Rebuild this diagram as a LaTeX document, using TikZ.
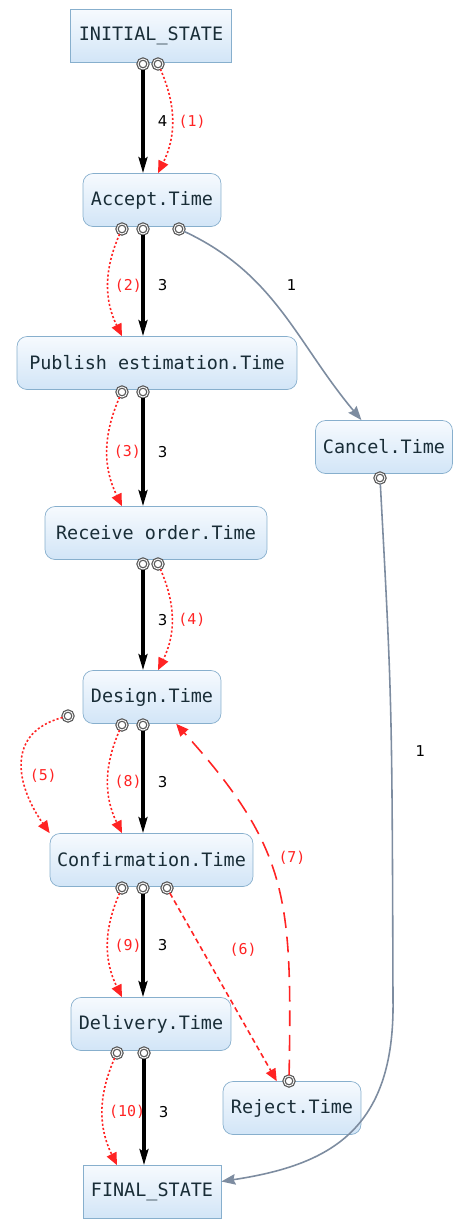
\documentclass[tikz,border=0pt]{standalone}
\usepackage{fontspec}
\newfontfamily\boxfont{DejaVu Sans Mono}
\newfontfamily\numfont{DejaVu Sans}
\usetikzlibrary{arrows.meta,calc}

\definecolor{boxtop}{RGB}{246,250,254}
\definecolor{boxbot}{RGB}{210,229,247}
\definecolor{boxline}{RGB}{135,175,205}
\definecolor{boxtext}{RGB}{25,45,55}
\definecolor{flowred}{RGB}{255,35,35}
\definecolor{cancelgray}{RGB}{125,140,160}

\begin{document}
\begin{tikzpicture}[
  x=0.02cm, y=0.02cm,
  task/.style={draw=boxline, top color=boxtop, bottom color=boxbot, rounded corners=0.2cm, minimum height=1.06cm, inner sep=2pt, text=boxtext, font=\boxfont\fontsize{10.5}{12}\selectfont},
  state/.style={task, sharp corners},
  port/.style={circle, draw=black!65, double=white, double distance=0.5pt, line width=0.7pt, fill=white, minimum size=0.2cm, inner sep=0pt},
  flow/.style={-{Stealth[length=9pt,width=5pt,inset=1.5pt]}, line width=2.2pt},
  trace/.style={-{Triangle[length=7pt,width=6pt]}, flowred, dash pattern=on 1.2pt off 1.2pt, line width=0.9pt},
  skip/.style={-{Triangle[length=7pt,width=6pt]}, flowred, dash pattern=on 3pt off 2pt, line width=0.9pt},
  back/.style={-{Triangle[length=7pt,width=6pt]}, flowred, dash pattern=on 9pt off 5pt, line width=0.9pt},
  other/.style={-{Stealth[length=8pt,width=6pt,inset=1pt]}, cancelgray, line width=0.9pt},
  cnt/.style={font=\numfont\fontsize{8.5}{10}\selectfont, text=black, right=4pt},
  tag/.style={font=\boxfont\fontsize{8.5}{10}\selectfont, text=flowred}
]
\useasboundingbox (0,0) rectangle (454,-1221);

% activities
\node[state, minimum width=3.22cm] (initial) at (151,-36) {INITIAL\_STATE};
\node[task, minimum width=2.76cm] (accept) at (152,-200) {Accept.Time};
\node[task, minimum width=5.6cm] (publish) at (157,-363) {Publish estimation.Time};
\node[task, minimum width=2.74cm] (cancel) at (384,-447) {Cancel.Time};
\node[task, minimum width=4.44cm] (receive) at (156,-533) {Receive order.Time};
\node[task, minimum width=2.76cm] (design) at (152,-697) {Design.Time};
\node[task, minimum width=4.06cm] (confirm) at (151.5,-860) {Confirmation.Time};
\node[task, minimum width=3.2cm] (delivery) at (151,-1024) {Delivery.Time};
\node[task, minimum width=2.76cm] (reject) at (292,-1108) {Reject.Time};
\node[state, minimum width=2.76cm] (final) at (152,-1192) {FINAL\_STATE};

% ports
\node[port] (ip1) at (143,-64) {};
\node[port] (ip2) at (158,-64) {};
\node[port] (ap1) at (122,-229) {};
\node[port] (ap2) at (143,-229) {};
\node[port] (ap3) at (179,-229) {};
\node[port] (pp1) at (122,-392) {};
\node[port] (pp2) at (143,-392) {};
\node[port] (cp1) at (380,-478) {};
\node[port] (rp1) at (143,-564) {};
\node[port] (rp2) at (158,-564) {};
\node[port] (dp0) at (68,-716) {};
\node[port] (dp1) at (122,-725) {};
\node[port] (dp2) at (143,-725) {};
\node[port] (fp1) at (122,-888) {};
\node[port] (fp2) at (143,-888) {};
\node[port] (fp3) at (167,-888) {};
\node[port] (vp1) at (117,-1053) {};
\node[port] (vp2) at (144,-1053) {};
\node[port] (jp1) at (289,-1081) {};

% main flow
\draw[flow] (ip1) -- node[cnt] {4} (ip1 |- accept.north);
\draw[flow] (ap2) -- node[cnt] {3} (ap2 |- publish.north);
\draw[flow] (pp2) -- node[cnt] {3} (pp2 |- receive.north);
\draw[flow] (rp1) -- node[cnt] {3} (rp1 |- design.north);
\draw[flow] (dp2) -- node[cnt] {3} (dp2 |- confirm.north);
\draw[flow] (fp2) -- node[cnt] {3} (fp2 |- delivery.north);
\draw[flow] (vp2) -- node[cnt] {3} (vp2 |- final.north);

% traces
\draw[trace] (ip2) to[bend left=25] node[tag, right] {(1)} (ip2 |- accept.north);
\draw[trace] (ap1) to[bend right=25] node[tag, right] {(2)} (ap1 |- publish.north);
\draw[trace] (pp1) to[bend right=25] node[tag, right] {(3)} (pp1 |- receive.north);
\draw[trace] (rp2) to[bend left=25] node[tag, right] {(4)} (rp2 |- design.north);
\draw[trace] (dp0) to[out=195, in=125, looseness=1.3] node[tag, pos=.6, right=0pt] {(5)} (confirm.north west);
\draw[skip] (fp3) -- node[tag, pos=.3, right=12pt] {(6)} (reject);
\draw[back] (jp1) .. controls (292,-900) and (290,-850) .. node[tag, pos=.58, right=2pt] {(7)} (design);
\draw[trace] (dp1) to[bend right=25] node[tag, right] {(8)} (dp1 |- confirm.north);
\draw[trace] (fp1) to[bend right=25] node[tag, right] {(9)} (fp1 |- delivery.north);
\draw[trace] (vp1) to[bend right=25] node[tag, right] {(10)} (vp1 |- final.north);

% cancel branch
\draw[other] (ap3) to[out=-25, in=130] node[cnt, pos=.35, right=8pt] {1} (cancel);
\draw[other] (cp1) .. controls (392,-700) .. (393,-1000) node[cnt, pos=.6, right=6pt] {1}
  .. controls (395,-1130) and (330,-1165) .. (final);
\end{tikzpicture}
\end{document}
